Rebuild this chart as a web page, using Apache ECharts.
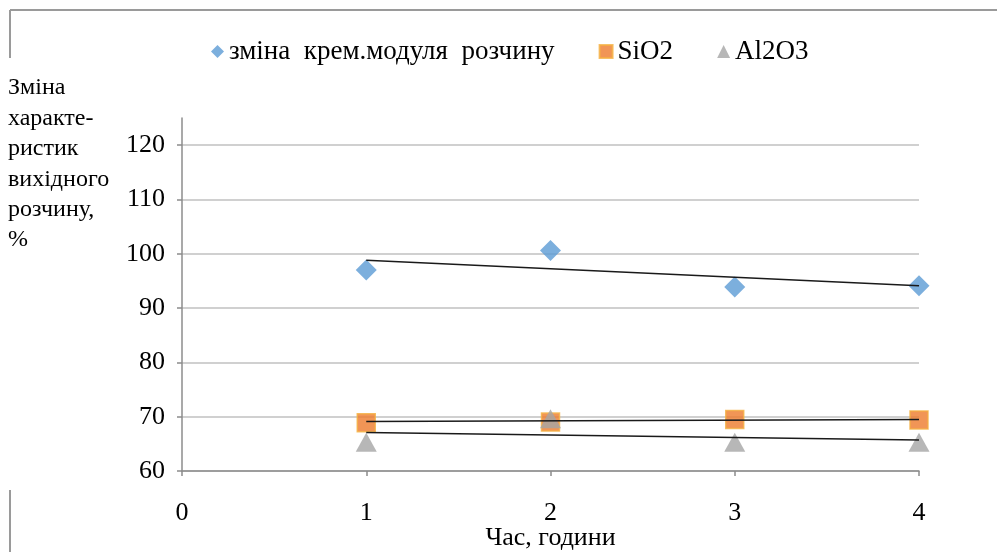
<!DOCTYPE html>
<html>
<head>
<meta charset="utf-8">
<script src="https://cdn.jsdelivr.net/npm/echarts@6/dist/echarts.min.js"></script>
<style>html,body{margin:0;padding:0;background:#fff}#c{width:997px;height:552px}</style>
</head>
<body>
<div id="c"></div>
<script>
// ---- data ----
var hours = [1, 2, 3, 4];
var modulusChange = [97.0, 100.6, 93.9, 94.1];
var sio2 = [68.9, 69.0, 69.5, 69.4];
var al2o3 = [65.3, 69.6, 65.3, 65.3];
// trend line end values (at hour 1 and hour 4)
var trendHours = [1, 4];
var modulusTrend = [98.8, 94.1];
var sio2Trend = [69.1, 69.5];
var al2o3Trend = [67.1, 65.7];
var seriesNames = ['зміна  крем.модуля  розчину', 'SiO2', 'Al2O3'];
var yTicks = [60, 70, 80, 90, 100, 110, 120];
var xTicks = [0, 1, 2, 3, 4];
var yAxisName = 'Зміна\nхаракте-\nристик\nвихідного\nрозчину,\n%';
var xAxisName = 'Час, години';

function pairs(xs, ys) { return xs.map(function (x, i) { return [x, ys[i]]; }); }

var FONT = 'Liberation Serif';
var chart = echarts.init(document.getElementById('c'));
chart.setOption({
  animation: false,
  backgroundColor: '#fff',
  title: {
    text: yAxisName, left: 8, top: 73, padding: 0,
    textStyle: { fontFamily: FONT, fontSize: 24, fontWeight: 'normal', color: '#000', lineHeight: 30.4 }
  },
  legend: {
    data: [
      { name: seriesNames[0], icon: 'diamond' },
      { name: seriesNames[1], icon: 'rect' },
      { name: seriesNames[2], icon: 'triangle' }
    ],
    left: 206, top: 33, itemWidth: 13, itemHeight: 13, itemGap: 44,
    textStyle: { fontFamily: FONT, fontSize: 27, color: '#000', padding: [0, 0, 0, 0] }
  },
  grid: { left: 182, right: 78, top: 118, bottom: 81, containLabel: false, outerBoundsMode: 'none' },
  xAxis: {
    type: 'value', min: xTicks[0], max: xTicks[xTicks.length - 1], interval: 1,
    name: xAxisName, nameLocation: 'middle', nameGap: 54, nameMoveOverlap: false,
    nameTextStyle: { fontFamily: FONT, fontSize: 26, color: '#000' },
    axisLine: { show: true, lineStyle: { color: '#8c8c8c', width: 1.5 } },
    axisTick: { show: true, length: 5, lineStyle: { color: '#8c8c8c', width: 1.5 } },
    axisLabel: { fontFamily: FONT, fontSize: 26, color: '#000', margin: 29 },
    splitLine: { show: false }
  },
  yAxis: {
    type: 'value', min: yTicks[0], max: 125, interval: 10,
    axisLine: { show: true, lineStyle: { color: '#8c8c8c', width: 1.5 } },
    axisTick: { show: true, length: 5, lineStyle: { color: '#8c8c8c', width: 1.5 } },
    axisLabel: { fontFamily: FONT, fontSize: 26, color: '#000', margin: 17, showMaxLabel: false,
      formatter: function (v) { return yTicks.indexOf(v) >= 0 ? String(v) : ''; } },
    splitLine: { show: true, showMaxLine: false, lineStyle: { color: '#c0c0c0', width: 1.5 } }
  },
  series: [
    { name: seriesNames[0], type: 'scatter', data: pairs(hours, modulusChange), symbol: 'diamond', symbolSize: 21,
      itemStyle: { color: '#5b9bd5' }, z: 3 },
    { name: seriesNames[1], type: 'scatter', data: pairs(hours, sio2), symbol: 'rect', symbolSize: 18,
      itemStyle: { color: '#ee7a2c', borderColor: '#f5b041', borderWidth: 1.5 }, z: 3 },
    { name: seriesNames[2], type: 'scatter', data: pairs(hours, al2o3), symbol: 'triangle', symbolSize: [21, 19],
      itemStyle: { color: '#a5a5a5' }, z: 4 },
    { name: 'trend1', type: 'line', data: pairs(trendHours, modulusTrend), symbol: 'none',
      lineStyle: { color: '#1a1a1a', width: 1.5 }, z: 5 },
    { name: 'trend2', type: 'line', data: pairs(trendHours, sio2Trend), symbol: 'none',
      lineStyle: { color: '#1a1a1a', width: 1.5 }, z: 5 },
    { name: 'trend3', type: 'line', data: pairs(trendHours, al2o3Trend), symbol: 'none',
      lineStyle: { color: '#1a1a1a', width: 1.5 }, z: 5 }
  ],
  graphic: [
    { type: 'line', shape: { x1: 10, y1: 10, x2: 997, y2: 10 }, style: { stroke: '#9a9a9a', lineWidth: 2 }, silent: true },
    { type: 'line', shape: { x1: 10, y1: 10, x2: 10, y2: 58 }, style: { stroke: '#9a9a9a', lineWidth: 2 }, silent: true },
    { type: 'line', shape: { x1: 10, y1: 490, x2: 10, y2: 552 }, style: { stroke: '#9a9a9a', lineWidth: 2 }, silent: true }
  ]
});
</script>
</body>
</html>
